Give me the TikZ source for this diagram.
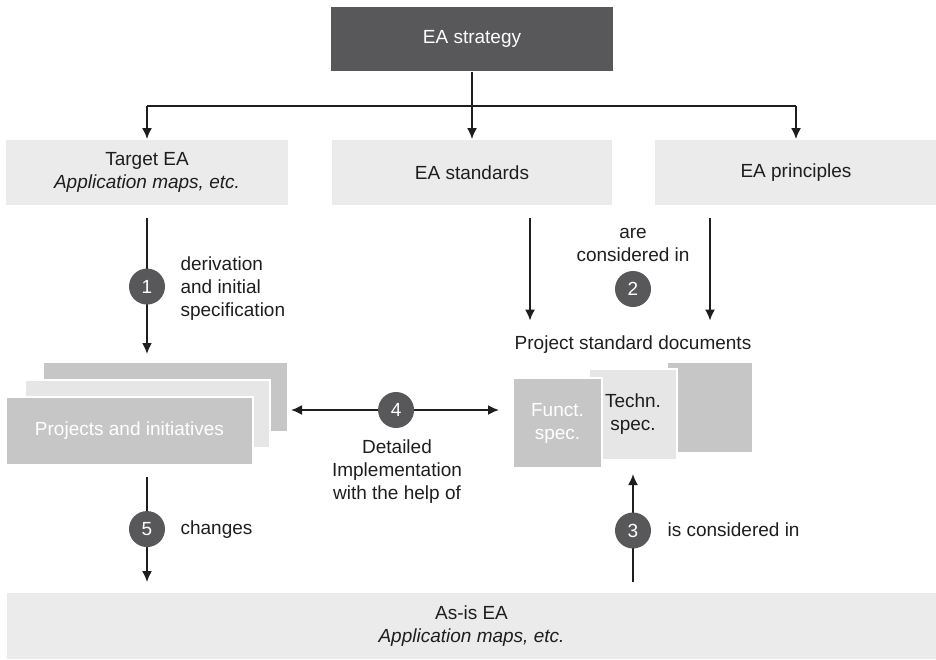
\documentclass[tikz,border=0pt]{standalone}
\usepackage{fontspec}
\setmainfont{Liberation Sans}
\usetikzlibrary{positioning,arrows.meta,calc}
\definecolor{eadark}{HTML}{58585A}
\definecolor{ealight}{HTML}{EBEBEB}
\definecolor{eamid}{HTML}{C6C6C6}
\definecolor{eapale}{HTML}{E6E6E6}
\definecolor{eaink}{HTML}{1E1E1E}
\begin{document}
\begin{tikzpicture}[x=0.5pt,y=-0.5pt,
  font=\fontsize{9.5}{11.5}\selectfont, color=eaink, line width=0.9pt,
  >={Latex[length=5.5pt,width=5pt]},
  box/.style={fill=ealight, minimum height=32.5pt, minimum width=141pt, align=center, inner sep=0pt},
  sheet/.style={draw=white, line width=1pt, fill=eamid, inner sep=0pt, align=center},
  num/.style={circle, fill=eadark, text=white, inner sep=0pt, minimum size=18pt},
  lbl/.style={align=left, anchor=west}]
\useasboundingbox (0,0) rectangle (936,659);

\node[box, fill=eadark, text=white, minimum height=32pt] (strat) at (472,39) {EA strategy};
\node[box] (target) at (147,172.5) {Target EA\\\textit{Application maps, etc.}};
\node[box, minimum width=140pt] (std) at (472,172.5) {EA standards};
\node[box] (princ) at (796,172.5) {EA principles};
\node[box, minimum width=464.5pt, minimum height=33pt] (asis) at (471.5,626) {As-is EA\\\textit{Application maps, etc.}};

\node[sheet, minimum width=122.5pt, minimum height=35pt] (projb) at (165.5,397) {};
\node[sheet, fill=eapale, minimum width=122.5pt, minimum height=34pt] (projm) at (147.5,414) {};
\node[sheet, text=white, minimum width=123.5pt, minimum height=34pt] (proj) at (129.5,431) {Projects and initiatives};

\node (doclbl) at (633,345) {Project standard documents};
\node[sheet, minimum width=43pt, minimum height=45.5pt] (dspec) at (710,407.5) {};
\node[sheet, fill=eapale, minimum width=44pt, minimum height=45.5pt] (tspec) at (633,414.5) {Techn.\\spec.};
\node[sheet, text=white, minimum width=44.5pt, minimum height=45pt] (fspec) at (557.5,423) {Funct.\\spec.};

\coordinate (fork) at ($(strat.south)+(0,34)$);
\draw (strat.south) -- (fork);
\draw (fork -| target) -- (fork -| princ);
\draw[->] (fork -| target) -- (target.north);
\draw[->] (fork) -- (std.north);
\draw[->] (fork -| princ) -- (princ.north);

\draw[->, shorten <=6pt, shorten >=3.5pt] (target.south) -- node[num, pos=0.52] (n1) {1} (target.south |- projb.north);
\node[lbl] (lbl1) at (173,289) {derivation\\and initial\\specification};

\draw[->, shorten <=6pt, shorten >=4pt] ([xshift=29pt]std.south) -- ([xshift=29pt]std.south |- doclbl.north);
\draw[->, shorten <=6pt, shorten >=4pt] (princ.south -| dspec) -- (doclbl.north -| dspec);
\node[align=center] (lbl2) at (633,245) {are\\considered in};
\node[num] (n2) at (633,289) {2};

\coordinate (c4) at (397,410);
\draw[<->, shorten <=1pt, shorten >=6.5pt] (projb.east |- c4) -- node[num, pos=0.48] (n4) {4} (fspec.west |- c4);
\node[align=center] (lbl4) at (397,472) {Detailed\\Implementation\\with the help of};

\draw[->, shorten <=5.5pt, shorten >=5pt] (proj.south -| target) -- node[num, pos=0.5] (n5) {5} (asis.north -| target);
\node[lbl] (lbl5) at (173,530) {changes};

\draw[->, shorten <=5pt, shorten >=6.5pt] (asis.north -| tspec) -- node[num, pos=0.47] (n3) {3} (tspec.south);
\node[lbl] (lbl3) at (660,530) {is considered in};
\end{tikzpicture}
\end{document}
